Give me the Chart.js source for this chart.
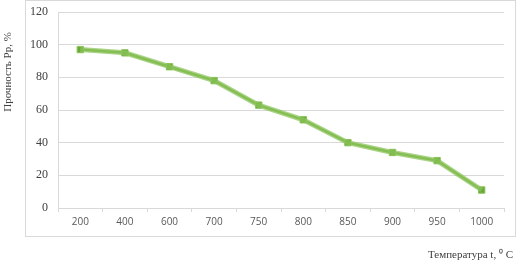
<!DOCTYPE html>
<html>
<head>
<meta charset="utf-8">
<script src="https://cdn.jsdelivr.net/npm/chart.js@4"></script>
<style>
  html, body { margin: 0; padding: 0; background: #fff; }
  #wrap { width: 518px; height: 264px; position: relative; }
</style>
</head>
<body>
<div id="wrap"><canvas id="chart"></canvas></div>
<script>
// temperature categories and strength values
const temps = ['200', '400', '600', '700', '750', '800', '850', '900', '950', '1000'];
const strength = [97, 95, 86.5, 78, 63, 54, 40, 34, 29, 11];
const yTicks = [0, 20, 40, 60, 80, 100, 120];

const yTitle = 'Прочность Рр, %';
const xTitle = 'Температура t, ⁰ C';

// outer frame + axis titles
const decorPlugin = {
    id: 'decor',
    beforeDraw(chart) {
        const ctx = chart.ctx;
        ctx.save();
        ctx.strokeStyle = '#d9d9d9';
        ctx.lineWidth = 1;
        ctx.strokeRect(25.5, 0.5, 490, 236);
        ctx.restore();
    },
    afterDraw(chart) {
        const ctx = chart.ctx;
        ctx.save();
        ctx.fillStyle = '#404040';
        ctx.font = '11px "Liberation Serif", serif';
        ctx.textAlign = 'center';
        ctx.textBaseline = 'middle';
        ctx.translate(8, 72);
        ctx.rotate(-Math.PI / 2);
        ctx.fillText(yTitle, 0, 0);
        ctx.restore();

        ctx.save();
        ctx.fillStyle = '#404040';
        ctx.font = '11px "Liberation Serif", serif';
        ctx.textAlign = 'right';
        ctx.textBaseline = 'middle';
        ctx.fillText(xTitle, 513, 255);
        ctx.restore();
    }
};

new Chart(document.getElementById('chart'), {
    type: 'line',
    data: {
        labels: temps,
        datasets: [{
            // soft glow under the line
            data: strength,
            borderColor: 'rgba(140, 196, 92, 0.75)',
            borderWidth: 5,
            pointRadius: 0,
            tension: 0,
            fill: false
        }, {
            data: strength,
            borderColor: '#72ae3e',
            borderWidth: 2.5,
            pointStyle: 'rect',
            pointRadius: 4.5,
            pointBackgroundColor: '#68a836',
            pointBorderColor: '#8cc45c',
            pointBorderWidth: 1,
            tension: 0,
            fill: false
        }]
    },
    options: {
        responsive: true,
        maintainAspectRatio: false,
        animation: false,
        layout: { padding: { top: 12, right: 14, left: 0, bottom: 0 } },
        plugins: {
            legend: { display: false },
            tooltip: { enabled: false }
        },
        scales: {
            x: {
                offset: true,
                grid: {
                    offset: true,
                    drawOnChartArea: false,
                    drawTicks: true,
                    tickLength: 4,
                    color: '#d9d9d9'
                },
                border: { color: '#d9d9d9' },
                ticks: {
                    padding: 4,
                    color: '#595959',
                    font: { family: '"Open Sans", sans-serif', size: 10 },
                    maxRotation: 0
                },
                afterFit(scale) { scale.height = 56; }
            },
            y: {
                min: 0,
                max: 120,
                afterBuildTicks(scale) {
                    scale.ticks = yTicks.map(v => ({ value: v }));
                },
                grid: { color: '#d9d9d9', drawTicks: false },
                border: { color: '#d9d9d9' },
                ticks: {
                    padding: 10,
                    color: '#404040',
                    font: { family: '"Liberation Serif", serif', size: 12 }
                },
                afterFit(scale) {
                    scale.width = 58;
                    scale.paddingTop = 0;
                    scale.paddingBottom = 0;
                }
            }
        }
    },
    plugins: [decorPlugin]
});
</script>
</body>
</html>
